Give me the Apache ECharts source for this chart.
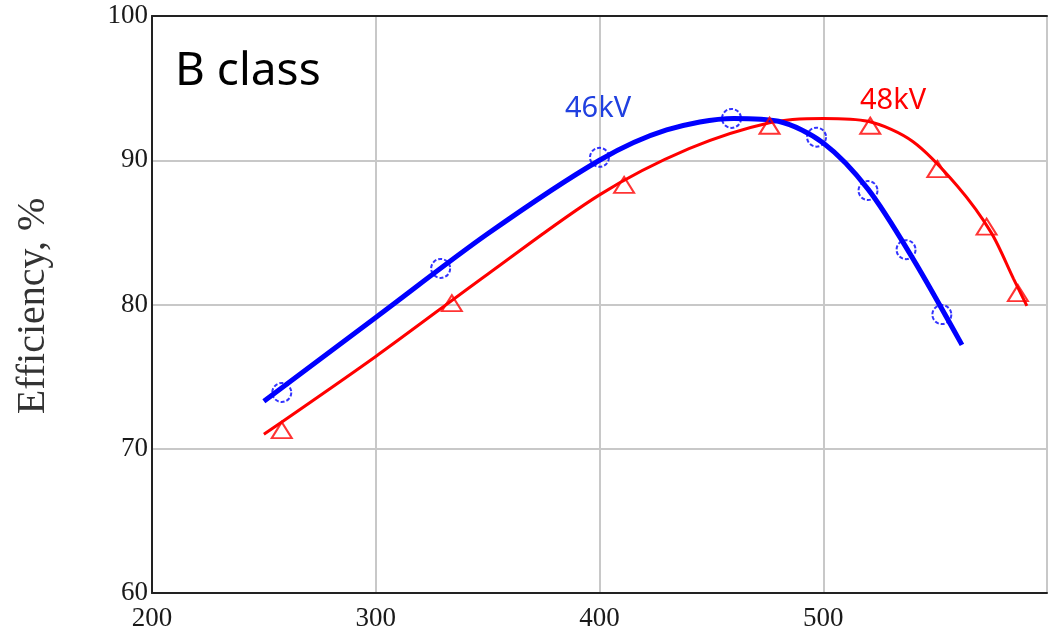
<!DOCTYPE html>
<html>
<head>
<meta charset="utf-8">
<script src="https://cdn.jsdelivr.net/npm/echarts@6/dist/echarts.min.js"></script>
<style>
  html, body { margin: 0; padding: 0; background: #fff; }
  #chart { width: 1050px; height: 637px; }
</style>
</head>
<body>
<div id="chart"></div>
<script>
// fitted curves
const curve46 = [[250, 73.3], [300, 79.1], [350, 84.9], [400, 90.0], [430, 92.1], [460, 92.9],
  [480, 92.7], [500, 91.2], [520, 88.0], [540, 83.2], [562, 77.2]]
const curve48 = [[250, 71.0], [300, 76.4], [350, 82.1], [400, 87.6], [440, 90.8], [476, 92.6],
  [500, 92.9], [520, 92.7], [540, 91.3], [560, 88.2], [575, 85.0], [585, 81.8], [591, 79.9]]

// measured points (markers)
const points46 = [[258, 73.9], [329, 82.5], [400, 90.2], [459, 92.9], [497, 91.6], [520, 87.9],
  [537, 83.8], [553, 79.3]]
const points48 = [[258, 71.5], [334, 80.3], [411, 88.5], [476, 92.6], [521, 92.6], [551, 89.6],
  [573, 85.6], [587, 81.0]]

const xTicks = [200, 300, 400, 500]
const yTicks = [60, 70, 80, 90, 100]

const blue = '#0000ff'
const red = '#ff0000'
const serif = '"Liberation Serif", "DejaVu Serif", serif'

const chart = echarts.init(document.getElementById('chart'))

chart.setOption({
  animation: false,
  backgroundColor: '#fff',
  grid: { left: 152, top: 16, right: 2, bottom: 44 },
  xAxis: [{
    type: 'value', min: 200, max: 600, interval: 100,
    axisLine: { show: true, lineStyle: { color: '#222', width: 2 } },
    axisTick: { show: false },
    splitLine: { show: true, lineStyle: { color: '#c8c8c8', width: 2 } },
    axisLabel: {
      fontFamily: serif, fontSize: 27, color: '#1a1a1a', margin: 12,
      formatter: v => xTicks.includes(v) ? String(v) : ''
    }
  }, {
    // top frame line only
    type: 'value', position: 'top', min: 200, max: 600, interval: 100,
    axisLine: { show: true, lineStyle: { color: '#222', width: 2 } },
    axisTick: { show: false }, axisLabel: { show: false }, splitLine: { show: false }
  }],
  yAxis: {
    type: 'value', min: 60, max: 100, interval: 10,
    axisLine: { show: true, lineStyle: { color: '#222', width: 2 } },
    axisTick: { show: false },
    splitLine: { show: true, lineStyle: { color: '#c8c8c8', width: 2 } },
    axisLabel: {
      fontFamily: serif, fontSize: 27, color: '#1a1a1a', margin: 4,
      formatter: v => yTicks.includes(v) ? String(v) : ''
    }
  },
  graphic: [
    {
      type: 'text', x: 33, y: 306, rotation: Math.PI / 2,
      style: {
        text: 'Efficiency, %', font: '40px ' + serif, fill: '#333',
        align: 'center', verticalAlign: 'middle'
      }
    },
    {
      type: 'text', x: 175, y: 72,
      style: { text: 'B class', font: '46px "Noto Sans"', fill: '#000', verticalAlign: 'middle' }
    },
    {
      type: 'text', x: 565, y: 109,
      style: { text: '46kV', font: '29px "Noto Sans"', fill: '#2040e0', verticalAlign: 'middle' }
    },
    {
      type: 'text', x: 860, y: 101,
      style: { text: '48kV', font: '29px "Noto Sans"', fill: red, verticalAlign: 'middle' }
    }
  ],
  series: [
    {
      type: 'line', data: curve48, smooth: 0.3, showSymbol: false,
      lineStyle: { color: red, width: 3 }, z: 2
    },
    {
      type: 'line', data: curve46, smooth: 0.3, showSymbol: false,
      lineStyle: { color: blue, width: 5 }, z: 3
    },
    {
      type: 'scatter', data: points48, symbol: 'triangle', symbolSize: [20, 16],
      symbolOffset: [0, 3],
      itemStyle: { color: 'rgba(255,255,255,0)', borderColor: red, borderWidth: 2 }, z: 4
    },
    {
      type: 'scatter', data: points46, symbol: 'circle', symbolSize: 19,
      itemStyle: { color: 'rgba(255,255,255,0)', borderColor: blue, borderWidth: 2, borderType: [4, 2] }, z: 5
    }
  ]
})
</script>
</body>
</html>
